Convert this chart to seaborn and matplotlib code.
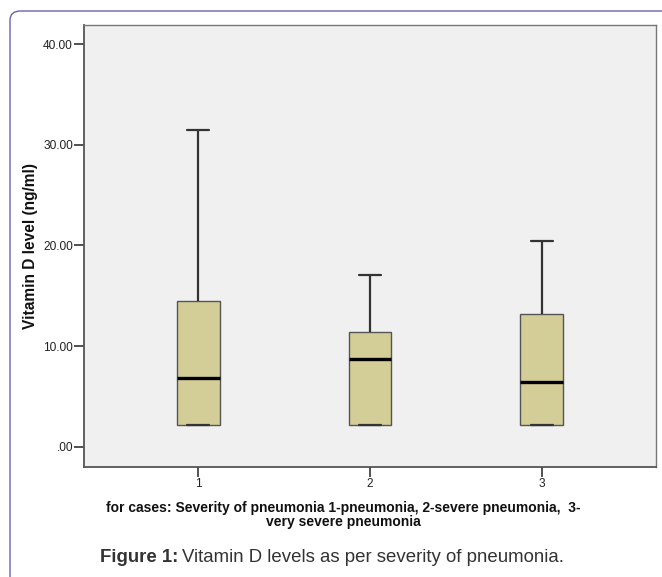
import pandas as pd
import seaborn as sns
import matplotlib.pyplot as plt
from matplotlib.patches import FancyBboxPatch

# five-number summaries (min, Q1, median, Q3, max)
severity = ['1', '2', '3']
vit_sev1 = [2.2, 2.2, 6.8, 14.5, 31.5]
vit_sev2 = [2.2, 2.2, 8.7, 11.4, 17.1]
vit_sev3 = [2.2, 2.2, 6.4, 13.2, 20.4]
y_ticks = [0, 10, 20, 30, 40]
y_ticklabels = ['.00', '10.00', '20.00', '30.00', '40.00']

df = pd.DataFrame({
    'severity': ['1'] * len(vit_sev1) + ['2'] * len(vit_sev2) + ['3'] * len(vit_sev3),
    'vitd': vit_sev1 + vit_sev2 + vit_sev3,
})

sns.set_style('white')
plt.rcParams['font.family'] = ['Liberation Sans', 'DejaVu Sans']

W, H = 662, 577
fig = plt.figure(figsize=(W / 100, H / 100), dpi=100)

# rounded outer frame, running off the right and bottom edges
frame = FancyBboxPatch((10 / W, -30 / H), 700 / W, (H - 11 + 30) / H,
                       boxstyle='round,pad=0,rounding_size=0.016',
                       transform=fig.transFigure, fill=False,
                       edgecolor='#6B62AE', linewidth=1.0, clip_on=False)
fig.patches.append(frame)

ax = fig.add_axes([84 / W, 1 - 467 / H, 572 / W, 442 / H])
ax.set_facecolor('#F0F0F0')

sns.boxplot(data=df, x='severity', y='vitd', order=severity, ax=ax,
            color='#D3CD97', saturation=1, width=0.25, whis=(0, 100),
            linecolor='#555555', linewidth=1.0,
            medianprops=dict(color='black', linewidth=2.4),
            whiskerprops=dict(color='#333333', linewidth=1.6),
            capprops=dict(color='#333333', linewidth=1.6))

ax.set_xlim(-0.664, 2.664)
ax.set_ylim(-2.0, 41.9)
ax.set_yticks(y_ticks)
ax.set_yticklabels(y_ticklabels)
ax.tick_params(axis='both', direction='out', length=7, width=1.2,
               color='#333333', labelsize=8.6, labelcolor='#222222', pad=1,
               left=True, bottom=True)
for side in ['left', 'bottom']:
    ax.spines[side].set_color('#555555')
    ax.spines[side].set_linewidth(1.3)
for side in ['top', 'right']:
    ax.spines[side].set_color('#777777')
    ax.spines[side].set_linewidth(1.0)

ax.set_xlabel('')
ax.set_ylabel('Vitamin D level (ng/ml)', fontsize=11.2, fontweight='bold',
              color='#111111', labelpad=4)

fig.text(343 / W, 1 - 515 / H,
         'for cases: Severity of pneumonia 1-pneumonia, 2-severe pneumonia,  3-\nvery severe pneumonia',
         ha='center', va='center', fontsize=10, fontweight='bold',
         color='#111111', linespacing=1.05)

# caption: bold "Figure 1:" followed by normal text
cap1 = fig.text(100 / W, 1 - 557 / H, 'Figure 1:', ha='left', va='center',
                fontsize=13.4, fontweight='bold', color='#333333')
fig.canvas.draw()
bb = cap1.get_window_extent()
fig.text(bb.x1 / W + 4 / W, 1 - 557 / H, 'Vitamin D levels as per severity of pneumonia.',
         ha='left', va='center', fontsize=13.4, color='#333333')

fig.savefig('out.png', dpi=100, facecolor='white')
